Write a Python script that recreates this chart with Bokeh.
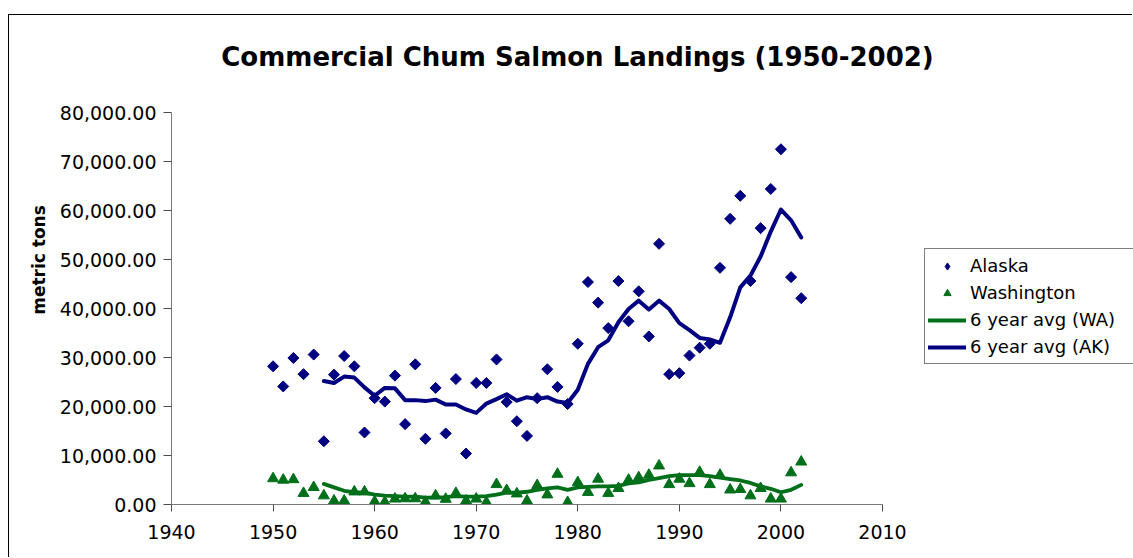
import math
from bokeh.plotting import figure
from bokeh.models import (Range1d, NumeralTickFormatter, FixedTicker, Legend,
                          LegendItem, Label)
from bokeh.embed import file_html
from bokeh.resources import INLINE

title_text = "Commercial Chum Salmon Landings (1950-2002)"
y_label = "metric tons"

years = [1950, 1951, 1952, 1953, 1954, 1955, 1956, 1957, 1958, 1959,
         1960, 1961, 1962, 1963, 1964, 1965, 1966, 1967, 1968, 1969,
         1970, 1971, 1972, 1973, 1974, 1975, 1976, 1977, 1978, 1979,
         1980, 1981, 1982, 1983, 1984, 1985, 1986, 1987, 1988, 1989,
         1990, 1991, 1992, 1993, 1994, 1995, 1996, 1997, 1998, 1999,
         2000, 2001, 2002]

alaska = [28200, 24100, 29900, 26600, 30600, 12900, 26500, 30300, 28200, 14700,
          21700, 21000, 26300, 16400, 28600, 13400, 23800, 14500, 25600, 10400,
          24800, 24800, 29600, 20900, 17000, 14000, 21700, 27600, 24000, 20500,
          32800, 45400, 41200, 36000, 45600, 37400, 43500, 34300, 53200, 26600,
          26800, 30400, 32000, 32800, 48300, 58300, 63000, 45600, 56400, 64400,
          72500, 46400, 42100]

washington = [5300, 5000, 5100, 2300, 3500, 1800, 750, 750, 2600, 2600,
              600, 500, 1150, 1200, 1200, 500, 1800, 1100, 2300, 750,
              1150, 450, 4100, 2900, 2200, 750, 3900, 2000, 6200, 450,
              4500, 2500, 5200, 2300, 3300, 5000, 5500, 6000, 7900, 4100,
              5200, 4300, 6600, 4100, 6000, 3000, 3100, 1800, 3300, 1150,
              1150, 6500, 8700]

avg_years = [1955, 1956, 1957, 1958, 1959, 1960, 1961, 1962, 1963, 1964,
             1965, 1966, 1967, 1968, 1969, 1970, 1971, 1972, 1973, 1974,
             1975, 1976, 1977, 1978, 1979, 1980, 1981, 1982, 1983, 1984,
             1985, 1986, 1987, 1988, 1989, 1990, 1991, 1992, 1993, 1994,
             1995, 1996, 1997, 1998, 1999, 2000, 2001, 2002]

wa_avg = [4200, 3500, 2800, 2500, 2400, 2000, 1800, 1700, 1600, 1600,
          1400, 1400, 1500, 1700, 1600, 1600, 1700, 2000, 2400, 2400,
          2600, 3000, 3300, 3500, 3000, 3500, 3600, 3700, 3700, 3800,
          4300, 4500, 5000, 5400, 5800, 6000, 6000, 6000, 5800, 5500,
          5200, 4900, 4400, 3700, 3200, 2500, 3000, 4000]

ak_avg = [25200, 24800, 26100, 25900, 23900, 22200, 23800, 23700, 21300, 21300,
          21100, 21400, 20400, 20400, 19400, 18700, 20600, 21500, 22500, 21200,
          21900, 21500, 21900, 21000, 20700, 23400, 28700, 32100, 33500, 37200,
          39900, 41600, 39800, 41600, 39900, 37000, 35600, 34000, 33700, 33000,
          38200, 44300, 46700, 50600, 55700, 60200, 58000, 54500]

x_ticks = [1940, 1950, 1960, 1970, 1980, 1990, 2000, 2010]
y_ticks = [0, 10000, 20000, 30000, 40000, 50000, 60000, 70000, 80000]

legend_labels = ["Alaska", "Washington", "6 year avg (WA)", "6 year avg (AK)"]

NAVY = "#000080"
GREEN = "#006F1A"
FONT = "DejaVu Sans"

# layout (screen pixels): axes box spans x 171..882, y 112..504;
# the drawing frame is stretched to the canvas edge so legend/title are not clipped
W, H = 1124, 543
AX_L, AX_R, AX_T, AX_B = 171, 882, 112, 504
CANVAS_X0, CANVAS_Y0 = 9, 15
x0, x1 = x_ticks[0], x_ticks[-1]
y0, y1 = y_ticks[0], y_ticks[-1]
x_end = x0 + (x1 - x0) * (CANVAS_X0 + W - AX_L) / (AX_R - AX_L)
y_end = y0 + (y1 - y0) * (AX_B - CANVAS_Y0) / (AX_B - AX_T)

p = figure(width=W, height=H, output_backend="svg", toolbar_location=None,
           x_range=Range1d(x0, x_end), y_range=Range1d(y0, y_end),
           min_border_left=AX_L - CANVAS_X0, min_border_right=0, min_border_top=0,
           min_border_bottom=CANVAS_Y0 + H - AX_B, title=None)
p.styles = {"margin-left": "8px", "margin-top": "14px",
            "border-left": "1px solid black", "border-top": "1px solid black"}

p.xgrid.visible = False
p.ygrid.visible = False
p.outline_line_color = None
p.background_fill_color = "white"
p.border_fill_color = "white"

for ax in (p.xaxis[0], p.yaxis[0]):
    ax.axis_line_color = "#7a7a7a"
    ax.axis_line_width = 1
    ax.major_tick_line_color = "#4d4d4d"
    ax.major_tick_in = 0
    ax.minor_tick_line_color = None
    ax.major_label_text_font = FONT
    ax.major_label_text_font_size = "19px"
    ax.major_label_text_color = "black"

p.xaxis.ticker = FixedTicker(ticks=x_ticks)
p.xaxis.bounds = (x0, x1)
p.xaxis.major_tick_out = 7
p.xaxis.major_label_standoff = 13

p.yaxis.ticker = FixedTicker(ticks=y_ticks)
p.yaxis.bounds = (y0, y1)
p.yaxis.formatter = NumeralTickFormatter(format="0,0.00")
p.yaxis.major_tick_out = 8
p.yaxis.major_label_standoff = 7
p.yaxis.axis_label = y_label
p.yaxis.axis_label_text_font = FONT
p.yaxis.axis_label_text_font_style = "bold"
p.yaxis.axis_label_text_font_size = "17px"
p.yaxis.axis_label_text_color = "black"
p.yaxis.axis_label_standoff = 8

# upright diamonds (used as the legend key) hidden under the rotated squares
r_ak_key = p.scatter(years, alaska, marker="diamond", size=8,
                     fill_color=NAVY, line_color=NAVY)
p.scatter(years, alaska, marker="square", angle=math.pi / 4, size=7.8,
          fill_color=NAVY, line_color=NAVY)
r_wa = p.scatter(years, washington, marker="triangle", size=11,
                 fill_color=GREEN, line_color=GREEN)
r_wa_avg = p.line(avg_years, wa_avg, line_color=GREEN, line_width=3.8,
                  line_join="round", line_cap="round")
r_ak_avg = p.line(avg_years, ak_avg, line_color=NAVY, line_width=4,
                  line_join="round", line_cap="round")

legend = Legend(items=[LegendItem(label=legend_labels[0], renderers=[r_ak_key]),
                       LegendItem(label=legend_labels[1], renderers=[r_wa]),
                       LegendItem(label=legend_labels[2], renderers=[r_wa_avg]),
                       LegendItem(label=legend_labels[3], renderers=[r_ak_avg])],
                location=(924 - AX_L, AX_B - 250 - 114), orientation="vertical",
                margin=0,
                label_text_font=FONT, label_text_font_size="18px",
                label_text_color="black",
                glyph_width=38, glyph_height=18, label_height=27,
                label_width=200, spacing=0, padding=3, label_standoff=4,
                border_line_color="black", border_line_width=1,
                background_fill_color="white", background_fill_alpha=1)
p.add_layout(legend)

title = Label(x=577 - AX_L, y=AX_B - 56, x_units="screen", y_units="screen",
              text=title_text, text_font=FONT, text_font_style="bold",
              text_font_size="26px", text_align="center",
              text_baseline="alphabetic", text_color="black")
p.add_layout(title)

open("out.html", "w").write(file_html(p, INLINE))
